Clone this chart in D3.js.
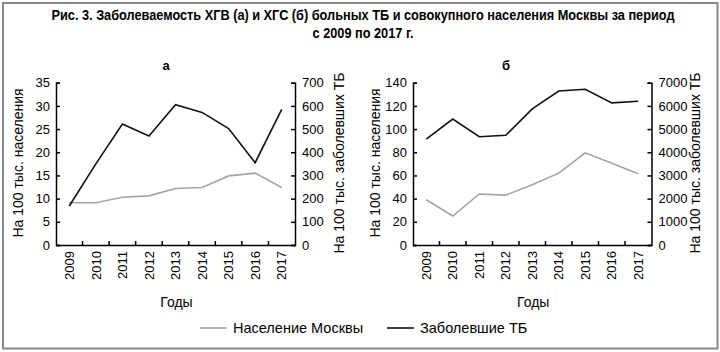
<!DOCTYPE html>
<html>
<head>
<meta charset="utf-8">
<script src="https://cdn.jsdelivr.net/npm/d3@7"></script>
<style>
  body { margin: 0; background: #fff; }
  svg { display: block; font-family: "Liberation Sans", Arial, sans-serif; }
  .axis path, .axis line { stroke: #000; stroke-width: 1.5; }
  .axis text { font-size: 13px; fill: #000; }
</style>
</head>
<body>
<svg id="chart"></svg>
<script>
let w = 720;
let h = 352;

// data
let years = ["2009", "2010", "2011", "2012", "2013", "2014", "2015", "2016", "2017"];
// а: ХГВ
let popA = [9.1, 9.1, 10.3, 10.6, 12.2, 12.4, 14.9, 15.5, 12.4];
let tbA = [168, 350, 522, 470, 605, 572, 502, 355, 585];
// б: ХГС
let popB = [39, 25, 44, 43, 52, 62, 79.5, 70.5, 61.5];
let tbB = [4570, 5430, 4670, 4730, 5870, 6640, 6720, 6130, 6200];

let leftTicksA = [0, 5, 10, 15, 20, 25, 30, 35];
let rightTicksA = [0, 100, 200, 300, 400, 500, 600, 700];
let leftTicksB = [0, 20, 40, 60, 80, 100, 120, 140];
let rightTicksB = [0, 1000, 2000, 3000, 4000, 5000, 6000, 7000];

let titleLines = [
  "Рис. 3. Заболеваемость ХГВ (а) и ХГС (б) больных ТБ  и совокупного населения Москвы за период",
  "с 2009 по 2017 г."
];
let leftTitle = "На 100 тыс. населения";
let rightTitle = "На 100 тыс. заболевших ТБ";
let xTitle = "Годы";
let legendNames = ["Население Москвы", "Заболевшие ТБ"];
let colors = {pop: "#a3a3a3", tb: "#111"};

let chart = d3.select("#chart").attr("width", w).attr("height", h);

// frame
chart.append("rect")
  .attr("x", 3).attr("y", 3)
  .attr("width", 714.5).attr("height", 345.5)
  .attr("fill", "none").attr("stroke", "#888").attr("stroke-width", 2);

// title (narrow bold face imitated by horizontal squeeze)
chart.append("g")
  .selectAll("text")
  .data(titleLines)
  .join("text")
    .attr("transform", (d, i) => `translate(363, ${20 + i * 18}) scale(0.91, 1)`)
    .attr("text-anchor", "middle")
    .attr("font-weight", "bold")
    .attr("font-size", 14)
    .text(d => d);

function drawPanel(opts) {
  let g = chart.append("g");
  let top = 82.7, bottom = 245;

  let xScale = d3.scaleBand().domain(years).range([opts.x0, opts.x1]);
  let yL = d3.scaleLinear().domain([0, d3.max(opts.leftTicks)]).range([bottom, top]);
  let yR = d3.scaleLinear().domain([0, d3.max(opts.rightTicks)]).range([bottom, top]);

  // lines
  let linePop = d3.line()
    .x((d, i) => xScale(years[i]) + xScale.bandwidth() / 2)
    .y(d => yL(d));
  let lineTb = d3.line()
    .x((d, i) => xScale(years[i]) + xScale.bandwidth() / 2)
    .y(d => yR(d));

  g.append("path")
    .attr("d", linePop(opts.pop))
    .attr("fill", "none").attr("stroke", colors.pop).attr("stroke-width", 1.6);
  g.append("path")
    .attr("d", lineTb(opts.tb))
    .attr("fill", "none").attr("stroke", colors.tb).attr("stroke-width", 1.6);

  // axes
  let yAxisL = d3.axisLeft(yL).tickValues(opts.leftTicks)
    .tickFormat(d3.format("d"))
    .tickSizeInner(-4).tickSizeOuter(-4).tickPadding(6);
  let yAxisR = d3.axisRight(yR).tickValues(opts.rightTicks)
    .tickFormat(d3.format("d"))
    .tickSizeInner(-4).tickSizeOuter(-4).tickPadding(7);

  g.append("g").attr("class", "axis")
    .attr("transform", `translate(${opts.x0}, 0)`)
    .call(yAxisL);
  g.append("g").attr("class", "axis")
    .attr("transform", `translate(${opts.x1}, 0)`)
    .call(yAxisR);

  let xAxis = d3.axisBottom(xScale).tickSize(0).tickSizeOuter(0);
  let xg = g.append("g").attr("class", "axis")
    .attr("transform", `translate(0, ${bottom})`)
    .call(xAxis);
  xg.selectAll("text")
    .attr("transform", "rotate(-90)")
    .attr("x", -6)
    .attr("y", 0)
    .attr("dy", "0.36em")
    .style("text-anchor", "end");

  // ticks between years
  g.append("g")
    .selectAll("line")
    .data(years.slice(1))
    .join("line")
      .attr("x1", d => xScale(d)).attr("x2", d => xScale(d))
      .attr("y1", bottom).attr("y2", bottom - 4)
      .attr("stroke", "#000").attr("stroke-width", 1.5);

  // axis titles
  g.append("text")
    .attr("transform", `translate(${opts.x0 - 38}, 163) rotate(-90)`)
    .attr("text-anchor", "middle").attr("dy", "0.35em")
    .attr("font-size", 14)
    .text(leftTitle);
  g.append("text")
    .attr("transform", `translate(${opts.x1 + 44}, 163) rotate(-90)`)
    .attr("text-anchor", "middle").attr("dy", "0.35em")
    .attr("font-size", 14)
    .text(rightTitle);
  g.append("text")
    .attr("x", (opts.x0 + opts.x1) / 2 + 1)
    .attr("y", 302).attr("dy", "0.35em")
    .attr("text-anchor", "middle")
    .attr("font-size", 14)
    .text(xTitle);

  g.append("text")
    .attr("x", opts.labelX).attr("y", 65).attr("dy", "0.35em")
    .attr("text-anchor", "middle")
    .attr("font-weight", "bold").attr("font-size", 13)
    .text(opts.label);
}

drawPanel({x0: 56, x1: 295, pop: popA, tb: tbA, leftTicks: leftTicksA, rightTicks: rightTicksA, label: "а", labelX: 166});
drawPanel({x0: 413, x1: 651.5, pop: popB, tb: tbB, leftTicks: leftTicksB, rightTicks: rightTicksB, label: "б", labelX: 506});

// legend
let legend = chart.append("g")
  .selectAll("g")
  .data(legendNames)
  .join("g")
    .attr("transform", (d, i) => `translate(${i === 0 ? 200 : 387}, 328)`);

legend.append("line")
  .attr("x1", 0).attr("x2", 27)
  .attr("stroke", (d, i) => i === 0 ? colors.pop : colors.tb)
  .attr("stroke-width", 1.6);

legend.append("text")
  .attr("x", 33).attr("dy", "0.35em")
  .attr("font-size", 14.5)
  .text(d => d);
</script>
</body>
</html>
